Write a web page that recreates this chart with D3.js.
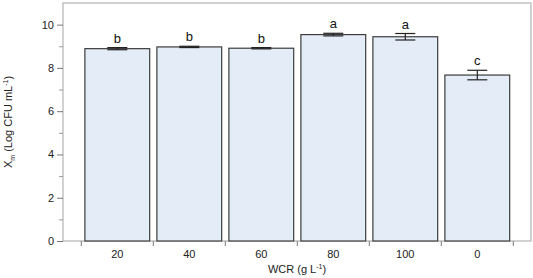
<!DOCTYPE html>
<html>
<head>
<meta charset="utf-8">
<script src="https://cdn.jsdelivr.net/npm/d3@7"></script>
<style>
  body { margin: 0; background: #fff; }
  svg { display: block; font-family: "Liberation Sans", Arial, Helvetica, sans-serif; }
</style>
</head>
<body>
<svg id="chart" width="533" height="278"></svg>
<script>
// chart data
const categories = ["20", "40", "60", "80", "100", "0"];
const means = [8.89, 8.97, 8.91, 9.54, 9.44, 7.67];
const errors = [0.05, 0.03, 0.03, 0.06, 0.15, 0.22];
const letters = ["b", "b", "b", "a", "a", "c"];
const majorTicks = [0, 2, 4, 6, 8, 10];
const minorTicks = [1, 3, 5, 7, 9];

const width = 533, height = 278;
const margin = { top: 3, right: 2, bottom: 37, left: 63 };

const svg = d3.select("#chart");

const y = d3.scaleLinear()
    .domain([0, 11])
    .range([height - margin.bottom, margin.top]);

// categories sit inside the frame with a little room on each side
const x = d3.scaleBand()
    .domain(categories)
    .range([81.3, 513.3])
    .paddingInner(0.1)
    .paddingOuter(0.05);

// frame
svg.append("rect")
    .attr("x", margin.left)
    .attr("y", margin.top)
    .attr("width", width - margin.left - margin.right)
    .attr("height", height - margin.top - margin.bottom)
    .attr("fill", "none")
    .attr("stroke", "#b4b4b4")
    .attr("stroke-width", 1.2);

// bars
svg.append("g")
    .selectAll("rect")
    .data(means)
    .enter()
    .append("rect")
    .attr("x", (d, i) => x(categories[i]))
    .attr("y", d => y(d))
    .attr("width", x.bandwidth())
    .attr("height", d => y(0) - y(d))
    .attr("fill", "#e4edf7")
    .attr("stroke", "#3c3c3c")
    .attr("stroke-width", 1.2);

// error bars
const errG = svg.append("g")
    .attr("stroke", "#222")
    .attr("stroke-width", 1.2);
means.forEach((m, i) => {
    const cx = x(categories[i]) + x.bandwidth() / 2;
    const hw = 10;
    errG.append("line").attr("x1", cx).attr("x2", cx).attr("y1", y(m - errors[i])).attr("y2", y(m + errors[i]));
    errG.append("line").attr("x1", cx - hw).attr("x2", cx + hw).attr("y1", y(m + errors[i])).attr("y2", y(m + errors[i]));
    errG.append("line").attr("x1", cx - hw).attr("x2", cx + hw).attr("y1", y(m - errors[i])).attr("y2", y(m - errors[i]));
});

// significance letters
svg.append("g")
    .selectAll("text")
    .data(letters)
    .enter()
    .append("text")
    .attr("x", (d, i) => x(categories[i]) + x.bandwidth() / 2)
    .attr("y", (d, i) => y(means[i] + errors[i]) - 5)
    .attr("text-anchor", "middle")
    .style("font-size", "13px")
    .style("fill", "#111")
    .text(d => d);

// y axis
const yAxis = svg.append("g")
    .attr("transform", `translate(${margin.left},0)`)
    .call(d3.axisLeft(y).tickValues(majorTicks).tickSize(6).tickPadding(3).tickFormat(d3.format("d")));
yAxis.select(".domain").remove();
yAxis.selectAll("line").attr("stroke", "#777");
yAxis.selectAll("text").style("font-size", "11px").style("fill", "#222").style("font-family", "inherit");

const yMinor = svg.append("g")
    .attr("transform", `translate(${margin.left},0)`)
    .call(d3.axisLeft(y).tickValues(minorTicks).tickSize(4).tickFormat(""));
yMinor.select(".domain").remove();
yMinor.selectAll("line").attr("stroke", "#999");

// x axis: ticks at category boundaries, labels centred
const bounds = categories.map(c => x(c) - x.step() * x.paddingInner() / 2)
    .concat([x(categories[categories.length - 1]) + x.bandwidth() + x.step() * x.paddingInner() / 2]);
const xTicks = svg.append("g");
xTicks.selectAll("line")
    .data(bounds)
    .enter()
    .append("line")
    .attr("x1", d => d).attr("x2", d => d)
    .attr("y1", y(0)).attr("y2", y(0) + 5)
    .attr("stroke", "#777");

svg.append("g")
    .selectAll("text")
    .data(categories)
    .enter()
    .append("text")
    .attr("x", d => x(d) + x.bandwidth() / 2)
    .attr("y", y(0) + 17)
    .attr("text-anchor", "middle")
    .style("font-size", "11px")
    .style("fill", "#222")
    .text(d => d);

// axis titles
const xTitle = svg.append("text")
    .attr("x", (margin.left + width - margin.right) / 2 + 0)
    .attr("y", 273)
    .attr("text-anchor", "middle")
    .style("font-size", "11px")
    .style("fill", "#222");
xTitle.append("tspan").text("WCR (g L");
xTitle.append("tspan").attr("dy", -4).style("font-size", "7px").text("-1");
xTitle.append("tspan").attr("dy", 4).text(")");

const yTitle = svg.append("text")
    .attr("transform", `translate(12,${(margin.top + height - margin.bottom) / 2}) rotate(-90)`)
    .attr("text-anchor", "middle")
    .style("font-size", "11px")
    .style("fill", "#222");
yTitle.append("tspan").text("X");
yTitle.append("tspan").attr("dy", 3).style("font-size", "7px").text("m");
yTitle.append("tspan").attr("dy", -3).text(" (Log CFU mL");
yTitle.append("tspan").attr("dy", -4).style("font-size", "7px").text("-1");
yTitle.append("tspan").attr("dy", 4).text(")");
</script>
</body>
</html>
